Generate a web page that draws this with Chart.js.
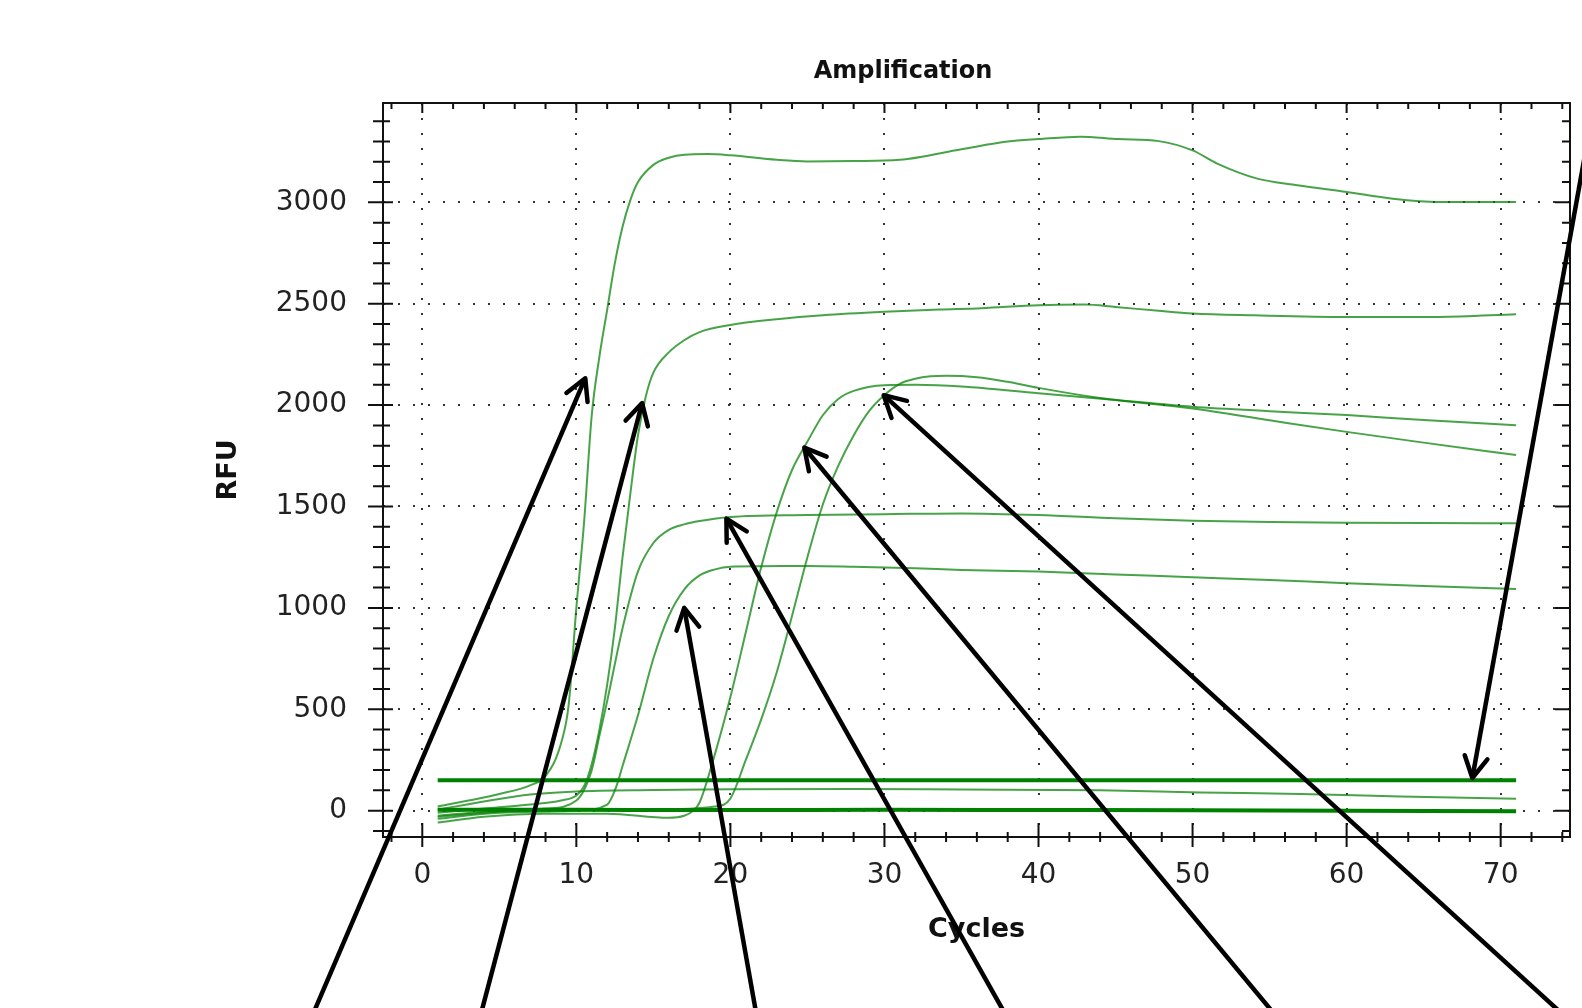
<!DOCTYPE html>
<html lang="en">
<head>
<meta charset="UTF-8">
<title>Amplification</title>
<script src="https://cdn.jsdelivr.net/npm/chart.js"></script>
<style>
html,body{margin:0;padding:0;background:#fff;overflow:hidden;}
#wrap{width:1806px;height:1008px;}
</style>
</head>
<body>
<div id="wrap"><canvas id="chart" width="1806" height="1008"></canvas></div>
<script>
// axis ranges + tick labels
const xMin = -2.55, xMax = 74.5;
const yMin = -130, yMax = 3490;
const xTicks = [0, 10, 20, 30, 40, 50, 60, 70];
const yTicks = [0, 500, 1000, 1500, 2000, 2500, 3000];

// amplification curves (cycle, RFU)
const cyclesA = [1,3,5,7,8,9,9.5,10,10.5,11,11.5,12,12.5,13,13.5,14,15,16,17,18.5,20,23,25,28,31,35,38,40,42.7,45.2,47.8,50,51.6,54.2,56.8,60,63,66,71];
const rfuA    = [20,50,82,125,170,330,520,1000,1420,1950,2240,2470,2700,2880,3010,3100,3185,3220,3235,3238,3232,3210,3202,3204,3210,3262,3300,3312,3324,3312,3302,3256,3191,3117,3084,3051,3018,3002,3002];

const cyclesB = [1,4,7,9,10,10.5,11,11.5,12,12.5,13,13.5,14,14.5,15,16,17,18,20,22.8,26,30,33.6,36.3,40,43,45,47.8,50,54,60,66,71];
const rfuB    = [-10,10,30,50,75,120,230,400,620,900,1250,1560,1850,2040,2160,2260,2320,2360,2395,2422,2443,2460,2471,2478,2493,2496,2484,2465,2452,2443,2435,2435,2448];

const cyclesC = [1,4,8,10,11,11.5,12,13,14,15,16,17,18,20,25,30,35,40,45,50,55,60,65,71];
const rfuC    = [-25,-5,10,50,200,370,540,900,1180,1320,1385,1412,1428,1448,1458,1462,1466,1458,1442,1430,1424,1420,1418,1417];

const cyclesD = [1,5,10,12,12.6,13,14,15,16,17,18,19,20,22,25,28,32,35,40,45,50,55,60,65,71];
const rfuD    = [-40,-10,0,30,120,220,470,750,960,1090,1160,1190,1203,1205,1207,1203,1195,1187,1179,1165,1151,1137,1122,1108,1093];

const cyclesE = [1,4,8,12,16,17,17.6,18,19,20,21,22,23,24,25,26,27,28,30,32,35,40,45,50,55,60,65,71];
const rfuE    = [-59,-30,-15,-15,-35,-25,0,40,280,560,880,1200,1470,1680,1820,1950,2030,2070,2098,2100,2092,2058,2025,1992,1970,1951,1926,1901];

const cyclesF = [1,5,10,15,19,20,21,22,23,24,25,26,27,28,29,30,31,32,33,34,36,38,40,44,50,55,60,65,71];
const rfuF    = [-30,-5,5,5,20,60,250,450,680,960,1250,1510,1700,1850,1970,2050,2105,2130,2142,2145,2138,2115,2085,2035,1983,1925,1868,1815,1754];

const cyclesG = [1,4,7,10,15,20,28,35,44,50.5,57,63.5,71];
const rfuG    = [5,45,80,95,102,106,107,104,100,90,82,70,59];

const cyclesFlat = [1,10,20,30,40,50,60,71];
const rfuFlat    = [5,4,3,4,3,2,0,-3];

const cyclesThreshold = [1,71];
const rfuThreshold    = [150,150];

// arrows: tip and tail in (cycle, RFU)
const arrowTipX  = [10.58, 14.27, 17.0, 19.74, 24.8, 29.95, 68.16];
const arrowTipY  = [2133, 2010, 1000, 1440, 1790, 2049, 161];
const arrowTailX = [-7.52, 3.54, 21.86, 38.4, 56.14, 75.1, 76.5];
const arrowTailY = [-1079, -1079, -1079, -1079, -1079, -1079, 3666];

const GREEN = 'rgba(0,128,0,0.72)';
const DARK = '#008000';

function curve(cycles, values, color, width, smooth){
  return {
    data: cycles.map((c, i) => ({x: c, y: values[i]})),
    borderColor: color,
    borderWidth: width,
    pointRadius: 0,
    fill: false,
    borderJoinStyle: 'round',
    cubicInterpolationMode: smooth ? 'monotone' : 'default',
    tension: 0
  };
}

// minor tick marks on the frame
const xMinor = [];
for(let v = -2; v <= 74; v += 2) xMinor.push(v);
const yMinor = [];
for(let v = -100; v <= 3400; v += 100) yMinor.push(v);

const framePlugin = {
  id: 'frame',
  afterDatasetsDraw(chart){
    const {ctx, chartArea: a, scales: {x, y}} = chart;
    ctx.save();
    ctx.strokeStyle = '#111';
    ctx.lineWidth = 2;
    ctx.strokeRect(a.left, a.top, a.right - a.left, a.bottom - a.top);
    ctx.beginPath();
    xMinor.forEach(v => {
      const px = x.getPixelForValue(v);
      const major = xTicks.includes(v);
      ctx.moveTo(px, a.bottom - (major ? 14 : 5));
      ctx.lineTo(px, a.bottom + (major ? 10 : 5));
      ctx.moveTo(px, a.top);
      ctx.lineTo(px, a.top + (major ? 10 : 6));
    });
    yMinor.forEach(v => {
      const py = y.getPixelForValue(v);
      const major = yTicks.includes(v);
      ctx.moveTo(a.left - (major ? 15 : 10), py);
      ctx.lineTo(a.left + (major ? 10 : 7), py);
      ctx.moveTo(a.right, py);
      ctx.lineTo(a.right - (major ? 15 : 8), py);
    });
    ctx.stroke();
    ctx.restore();
  },
  afterDraw(chart){
    const {ctx, scales: {x, y}} = chart;
    ctx.save();
    ctx.strokeStyle = '#000';
    ctx.lineWidth = 4.5;
    ctx.lineJoin = 'round';
    for(let i = 0; i < arrowTipX.length; i++){
      const tx = x.getPixelForValue(arrowTipX[i]), ty = y.getPixelForValue(arrowTipY[i]);
      const ex = x.getPixelForValue(arrowTailX[i]), ey = y.getPixelForValue(arrowTailY[i]);
      const ang = Math.atan2(ey - ty, ex - tx);
      ctx.beginPath();
      ctx.moveTo(ex, ey);
      ctx.lineTo(tx, ty);
      ctx.stroke();
      ctx.beginPath();
      ctx.lineCap = 'round';
      ctx.moveTo(tx + 24 * Math.cos(ang - 0.5), ty + 24 * Math.sin(ang - 0.5));
      ctx.lineTo(tx, ty);
      ctx.lineTo(tx + 24 * Math.cos(ang + 0.5), ty + 24 * Math.sin(ang + 0.5));
      ctx.stroke();
      ctx.lineCap = 'butt';
    }
    ctx.restore();
  }
};

Chart.defaults.font.family = "'DejaVu Sans', Verdana, sans-serif";

new Chart(document.getElementById('chart'), {
  type: 'line',
  data: {
    datasets: [
      curve(cyclesThreshold, rfuThreshold, DARK, 4, false),
      curve(cyclesFlat, rfuFlat, DARK, 4, true),
      curve(cyclesA, rfuA, GREEN, 2, true),
      curve(cyclesB, rfuB, GREEN, 2, true),
      curve(cyclesC, rfuC, GREEN, 2, true),
      curve(cyclesD, rfuD, GREEN, 2, true),
      curve(cyclesE, rfuE, GREEN, 2, true),
      curve(cyclesF, rfuF, GREEN, 2, true),
      curve(cyclesG, rfuG, GREEN, 2, true)
    ]
  },
  options: {
    responsive: false,
    animation: false,
    devicePixelRatio: 1,
    layout: {padding: 0},
    plugins: {
      legend: {display: false},
      tooltip: {enabled: false},
      title: {
        display: true,
        text: 'Amplification',
        color: '#111',
        font: {size: 24, weight: 'bold'},
        padding: {top: 57.6, bottom: 16.6}
      }
    },
    scales: {
      x: {
        type: 'linear',
        min: xMin, max: xMax,
        afterBuildTicks: s => { s.ticks = xTicks.map(v => ({value: v})); },
        afterFit: s => { s.height = 171; },
        ticks: {color: '#222', font: {size: 28}, padding: 22, callback: v => String(v), maxRotation: 0},
        grid: {color: '#333', lineWidth: 2, drawTicks: false},
        border: {display: false, dash: [2, 13]},
        title: {display: true, text: 'Cycles', color: '#111', font: {size: 27, weight: 'bold'}, padding: {top: 0, bottom: 61.8}}
      },
      y: {
        type: 'linear',
        position: 'left',
        min: yMin, max: yMax,
        afterBuildTicks: s => { s.ticks = yTicks.map(v => ({value: v})); },
        afterFit: s => { s.width = 383; },
        ticks: {color: '#222', font: {size: 28}, padding: 36, callback: v => String(v)},
        grid: {color: '#333', lineWidth: 2, drawTicks: false},
        border: {display: false, dash: [2, 13]},
        title: {display: true, text: 'RFU', color: '#111', font: {size: 27, weight: 'bold'}, padding: {top: 212.8, bottom: 0}}
      },
      yRight: {
        type: 'linear',
        position: 'right',
        min: yMin, max: yMax,
        afterFit: s => { s.width = 236; },
        ticks: {display: false},
        grid: {display: false, drawTicks: false},
        border: {display: false}
      }
    }
  },
  plugins: [framePlugin]
});
</script>
</body>
</html>
